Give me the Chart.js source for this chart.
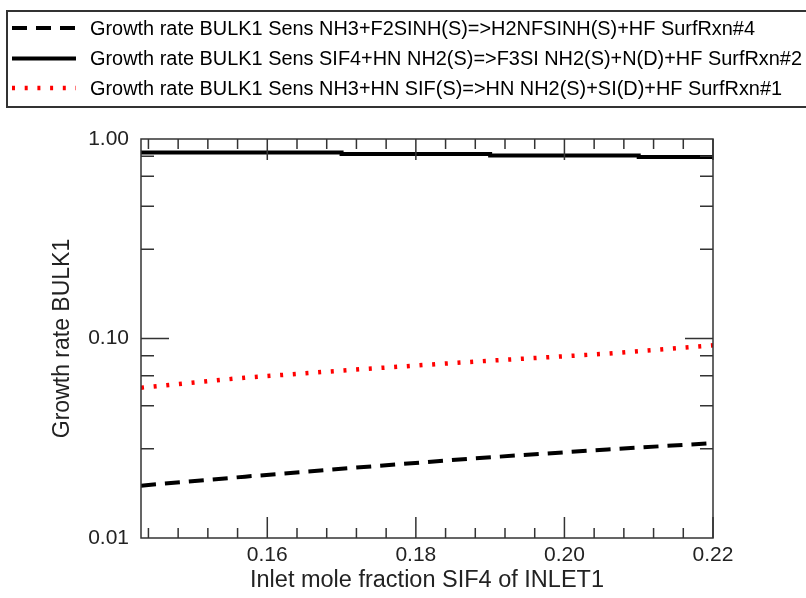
<!DOCTYPE html>
<html>
<head>
<meta charset="utf-8">
<script src="https://cdn.jsdelivr.net/npm/chart.js@4.4.1/dist/chart.umd.min.js"></script>
<style>
  body { margin: 0; background: #fff; }
  canvas { display: block; }
</style>
</head>
<body>
<canvas id="growthChart" width="806" height="598"></canvas>
<script>
// values (x = inlet mole fraction SIF4)
const rxn4X = [0.143, 0.157, 0.1749, 0.188, 0.2058, 0.2194, 0.22];
const rxn4Y = [0.0183, 0.0203, 0.0230, 0.0251, 0.0278, 0.0298, 0.0300];

const rxn2X = [0.143, 0.17, 0.19, 0.21, 0.22];
const rxn2Y = [0.855, 0.840, 0.826, 0.812, 0.812];

const rxn1X = [0.143, 0.1569, 0.1725, 0.1877, 0.205, 0.2187, 0.22];
const rxn1Y = [0.0567, 0.0636, 0.0701, 0.0765, 0.0836, 0.0917, 0.0925];

const legendLabels = [
    'Growth rate BULK1 Sens NH3+F2SINH(S)=>H2NFSINH(S)+HF SurfRxn#4',
    'Growth rate BULK1 Sens SIF4+HN NH2(S)=>F3SI NH2(S)+N(D)+HF SurfRxn#2',
    'Growth rate BULK1 Sens NH3+HN SIF(S)=>HN NH2(S)+SI(D)+HF SurfRxn#1'
];

const xTickLabels = [0.16, 0.18, 0.20, 0.22];
const yTickLabels = [0.01, 0.1, 1];
const yMinorTicks = [0.82, 0.65, 0.46, 0.28, 0.082, 0.065, 0.046, 0.028];

const toPoints = (xs, ys) => xs.map((x, i) => ({ x: x, y: ys[i] }));

const FONT = '"Liberation Sans", Arial, sans-serif';

// frame, inward ticks and the boxed legend
const framePlugin = {
    id: 'frame',
    afterDraw(chart) {
        const ctx = chart.ctx;
        const a = chart.chartArea;
        const xs = chart.scales.x;
        const ys = chart.scales.y;
        ctx.save();
        ctx.strokeStyle = '#333';
        ctx.lineWidth = 1.5;
        ctx.setLineDash([]);
        ctx.strokeRect(a.left, a.top, a.right - a.left, a.bottom - a.top);

        // x ticks every 0.004
        ctx.beginPath();
        for (let k = 36; k <= 55; k++) {
            const v = k * 0.004;
            const px = xs.getPixelForValue(v);
            const major = xTickLabels.some(t => Math.abs(t - v) < 1e-6);
            const len = major ? 21 : 10;
            ctx.moveTo(px, a.bottom); ctx.lineTo(px, a.bottom - len);
            ctx.moveTo(px, a.top); ctx.lineTo(px, a.top + len);
        }
        // y ticks
        const yMarks = [[0.1, 28]].concat(yMinorTicks.map(v => [v, 13]));
        yMarks.forEach(([v, len]) => {
            const py = ys.getPixelForValue(v);
            ctx.moveTo(a.left, py); ctx.lineTo(a.left + len, py);
            ctx.moveTo(a.right, py); ctx.lineTo(a.right - len, py);
        });
        ctx.stroke();

        // legend box
        ctx.lineWidth = 2;
        ctx.strokeRect(7, 11, 820, 96);
        const rows = [28, 58.5, 88];
        ctx.font = '20px ' + FONT;
        const sx = 712 / ctx.measureText(legendLabels[1]).width;
        chart.data.datasets.forEach((ds, i) => {
            ctx.beginPath();
            ctx.setLineDash(ds.borderDash || []);
            ctx.strokeStyle = ds.borderColor;
            ctx.lineWidth = ds.borderWidth;
            ctx.moveTo(12, rows[i]);
            ctx.lineTo(76, rows[i]);
            ctx.stroke();
            ctx.setLineDash([]);
            ctx.save();
            ctx.translate(90, rows[i]);
            ctx.scale(sx, 1);
            ctx.fillStyle = '#000';
            ctx.textBaseline = 'middle';
            ctx.fillText(legendLabels[i], 0, 1);
            ctx.restore();
        });
        ctx.restore();
    }
};

new Chart(document.getElementById('growthChart'), {
    type: 'line',
    data: {
        datasets: [
            {
                label: legendLabels[0],
                data: toPoints(rxn4X, rxn4Y),
                borderColor: '#000',
                borderWidth: 4,
                borderDash: [15, 9],
                pointRadius: 0
            },
            {
                label: legendLabels[1],
                data: toPoints(rxn2X, rxn2Y),
                borderColor: '#000',
                borderWidth: 4,
                stepped: true,
                pointRadius: 0
            },
            {
                label: legendLabels[2],
                data: toPoints(rxn1X, rxn1Y),
                borderColor: '#ff0000',
                borderWidth: 4.5,
                borderDash: [3, 9.7],
                pointRadius: 0
            }
        ]
    },
    options: {
        responsive: false,
        animation: false,
        layout: { padding: { top: 139, right: 93, left: 0, bottom: 0 } },
        plugins: {
            legend: { display: false },
            tooltip: { enabled: false }
        },
        scales: {
            x: {
                type: 'linear',
                min: 0.143,
                max: 0.22,
                grid: { display: false, drawTicks: false },
                border: { display: false },
                afterBuildTicks: s => { s.ticks = xTickLabels.map(v => ({ value: v })); },
                afterFit: s => { s.height = 60; },
                ticks: {
                    autoSkip: false,
                    maxRotation: 0,
                    padding: 5,
                    color: '#222',
                    font: { family: FONT, size: 21 },
                    callback: v => Number(v).toFixed(2)
                },
                title: {
                    display: true,
                    text: 'Inlet mole fraction SIF4 of INLET1',
                    color: '#222',
                    font: { family: FONT, size: 23.5 },
                    padding: { top: 0, bottom: 3 }
                }
            },
            y: {
                type: 'logarithmic',
                min: 0.01,
                max: 1,
                grid: { display: false, drawTicks: false },
                border: { display: false },
                afterBuildTicks: s => { s.ticks = yTickLabels.map(v => ({ value: v })); },
                afterFit: s => { s.width = 141; },
                ticks: {
                    autoSkip: false,
                    padding: 12,
                    color: '#222',
                    font: { family: FONT, size: 21 },
                    callback: v => Number(v).toFixed(2)
                },
                title: {
                    display: true,
                    text: 'Growth rate BULK1',
                    color: '#222',
                    font: { family: FONT, size: 23 },
                    padding: { top: 49, bottom: 0 }
                }
            }
        }
    },
    plugins: [framePlugin]
});
</script>
</body>
</html>
